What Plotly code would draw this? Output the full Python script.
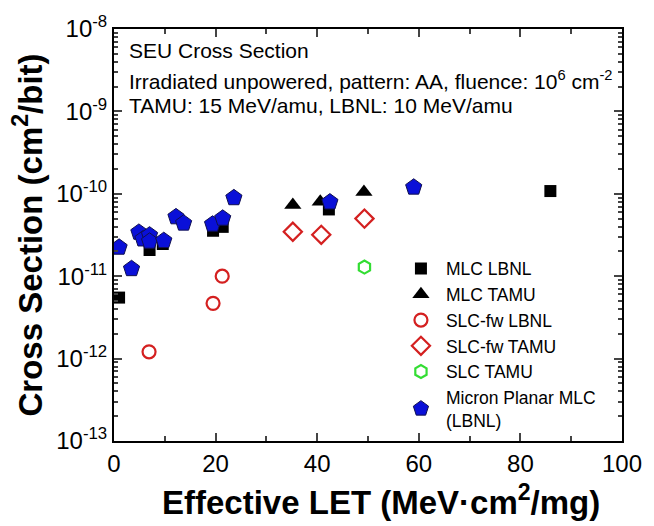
import plotly.graph_objects as go

# Data
mlc_lbnl_x = [1.0, 7.0, 9.6, 19.5, 21.4, 42.3, 85.9]
mlc_lbnl_y = [5.5e-12, 2.08e-11, 2.46e-11, 3.56e-11, 3.97e-11, 6.46e-11, 1.08e-10]

mlc_tamu_x = [35.2, 40.6, 49.2]
mlc_tamu_y = [7.3e-11, 8.0e-11, 1.05e-10]

slcfw_lbnl_x = [6.9, 19.5, 21.3]
slcfw_lbnl_y = [1.21e-12, 4.68e-12, 1.0e-11]

slcfw_tamu_x = [35.2, 40.8, 49.3]
slcfw_tamu_y = [3.46e-11, 3.18e-11, 5.0e-11]

slc_tamu_x = [49.3]
slc_tamu_y = [1.29e-11]

micron_x = [1.0, 3.45, 4.9, 5.7, 7.0, 7.0, 9.8, 12.2, 13.7, 19.4, 21.4, 23.6, 42.5, 59.0]
micron_y = [2.24e-11, 1.23e-11, 3.40e-11, 2.82e-11, 3.15e-11, 2.65e-11, 2.7e-11,
            5.24e-11, 4.39e-11, 4.27e-11, 5.04e-11, 8.93e-11, 7.93e-11, 1.2e-10]

y_tick_exps = [-13, -12, -11, -10, -9, -8]
x_tick_vals = [0, 20, 40, 60, 80, 100]

FONT = "Liberation Sans, Arial, sans-serif"

fig = go.Figure()
fig.add_trace(go.Scatter(x=mlc_lbnl_x, y=mlc_lbnl_y, mode="markers", name="MLC LBNL",
                         marker=dict(symbol="square", size=12, color="black")))
fig.add_trace(go.Scatter(x=mlc_tamu_x, y=mlc_tamu_y, mode="markers", name="MLC TAMU",
                         marker=dict(symbol="triangle-up", size=15, color="black")))
fig.add_trace(go.Scatter(x=slcfw_lbnl_x, y=slcfw_lbnl_y, mode="markers", name="SLC-fw LBNL",
                         marker=dict(symbol="circle-open", size=13, color="#d42020",
                                     line=dict(width=2.2, color="#d42020"))))
fig.add_trace(go.Scatter(x=slcfw_tamu_x, y=slcfw_tamu_y, mode="markers", name="SLC-fw TAMU",
                         marker=dict(symbol="diamond-open", size=14, color="#d42020",
                                     line=dict(width=2.2, color="#d42020"))))
fig.add_trace(go.Scatter(x=slc_tamu_x, y=slc_tamu_y, mode="markers", name="SLC TAMU",
                         marker=dict(symbol="hexagon-open", size=13, color="#33dd33",
                                     line=dict(width=2.2, color="#33dd33"))))
fig.add_trace(go.Scatter(x=micron_x, y=micron_y, mode="markers", name="Micron Planar MLC<br>(LBNL)",
                         marker=dict(symbol="pentagon", size=17, color="#0a10d8",
                                     line=dict(width=1, color="#101050"))))

minor_vals = [m * 10.0 ** e for e in range(-13, -8) for m in range(2, 10)]

fig.update_layout(
    width=654, height=526,
    margin=dict(l=114, r=28, t=24, b=85),
    plot_bgcolor="white", paper_bgcolor="white",
    font=dict(family=FONT, color="black"),
    showlegend=True,
    legend=dict(x=0.555, y=0.462, xanchor="left", yanchor="top",
                bgcolor="rgba(0,0,0,0)", font=dict(size=17.5, family=FONT),
                tracegroupgap=0, itemsizing="trace", itemwidth=40),
    xaxis=dict(range=[0, 100], tickvals=x_tick_vals, ticktext=[str(v) for v in x_tick_vals],
               ticks="inside", ticklen=8, tickwidth=2, showline=True, linewidth=2,
               linecolor="black", mirror="ticks", showgrid=False, zeroline=False,
               tickfont=dict(size=24), minor=dict(dtick=10, ticks="inside", ticklen=5, tickwidth=2)),
    yaxis=dict(type="log", range=[-13, -8],
               tickvals=[10.0 ** e for e in y_tick_exps],
               ticktext=["10<sup>%d</sup>" % e for e in y_tick_exps],
               ticks="inside", ticklen=8, tickwidth=2, showline=True, linewidth=2,
               linecolor="black", mirror="ticks", showgrid=False, zeroline=False,
               tickfont=dict(size=24),
               minor=dict(tickvals=minor_vals, ticks="inside", ticklen=4, tickwidth=1.5),
               title=dict(text="<b>Cross Section (cm<sup>2</sup>/bit)</b>",
                          font=dict(size=33), standoff=4)),
    annotations=[
        dict(text="<b>Effective LET (MeV·cm<sup>2</sup>/mg)</b>", xref="paper", yref="paper",
             x=0.525, y=-0.142, xanchor="center", yanchor="middle", showarrow=False,
             font=dict(size=33)),
        dict(text="SEU Cross Section", xref="paper", yref="paper", x=0.025, y=0.947,
             xanchor="left", yanchor="middle", showarrow=False, font=dict(size=21)),
        dict(text="Irradiated unpowered, pattern: AA, fluence: 10<sup>6</sup> cm<sup>-2</sup>",
             xref="paper", yref="paper", x=0.025, y=0.877,
             xanchor="left", yanchor="middle", showarrow=False, font=dict(size=21)),
        dict(text="TAMU: 15 MeV/amu, LBNL: 10 MeV/amu", xref="paper", yref="paper",
             x=0.025, y=0.815, xanchor="left", yanchor="middle", showarrow=False,
             font=dict(size=21)),
    ],
)

fig.write_html("out.html")
